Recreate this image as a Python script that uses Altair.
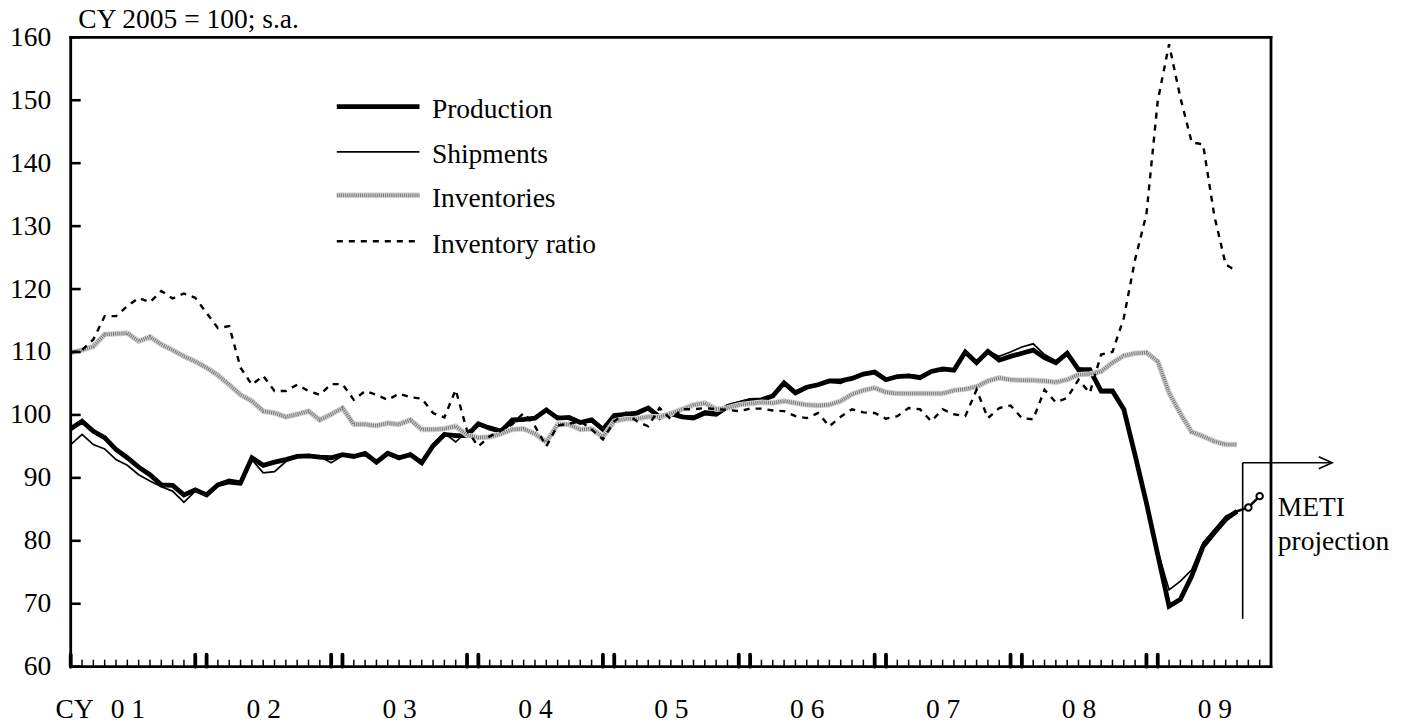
import altair as alt
import pandas as pd

# ---------------- data (monthly, index 0 = Jan 2001) ----------------
production = [97.8, 99.0, 97.4, 96.4, 94.5, 93.2, 91.7, 90.5, 88.9, 88.8, 87.3, 88.1,
              87.3, 88.9, 89.5, 89.2, 93.2, 92.0, 92.5, 92.9, 93.4, 93.5, 93.3, 93.2,
              93.7, 93.4, 93.9, 92.5, 93.9, 93.2, 93.7, 92.4, 95.1, 96.9, 96.7, 96.7,
              98.6, 97.9, 97.4, 99.2, 99.3, 99.5, 100.8, 99.5, 99.6, 98.8, 99.2, 97.7,
              99.9, 100.1, 100.3, 101.1, 99.7, 100.2, 99.7, 99.5, 100.3, 100.1, 101.3, 101.8,
              102.3, 102.4, 103.0, 105.1, 103.5, 104.4, 104.8, 105.4, 105.4, 105.8, 106.5, 106.8,
              105.6, 106.1, 106.2, 105.9, 106.9, 107.3, 107.1, 110.0, 108.3, 110.1, 108.7, 109.3,
              109.8, 110.3, 109.1, 108.3, 109.8, 107.2, 107.2, 103.8, 103.8, 100.9, 93.6, 86.0,
              77.8, 69.6, 70.7, 74.4, 79.1, 81.3, 83.4, 84.7]
shipments = [95.3, 96.9, 95.3, 94.6, 92.9, 92.0, 90.5, 89.5, 88.6, 87.9, 86.1, 87.9,
             87.6, 88.7, 89.1, 88.9, 92.9, 90.8, 91.0, 92.6, 93.4, 93.7, 93.4, 92.4,
             93.5, 93.7, 93.5, 92.5, 93.7, 92.9, 93.9, 92.5, 95.3, 97.1, 95.7, 97.4,
             98.2, 98.2, 97.6, 98.9, 99.1, 99.6, 100.5, 99.8, 99.3, 99.0, 98.9, 98.0,
             99.6, 100.4, 100.2, 101.0, 99.3, 100.5, 99.9, 99.8, 100.6, 100.5, 101.6, 102.1,
             102.5, 102.2, 103.2, 104.8, 103.8, 104.6, 104.9, 105.2, 105.0, 105.9, 106.3, 106.9,
             105.8, 106.0, 106.4, 106.2, 107.1, 107.0, 107.3, 110.1, 108.5, 110.2, 109.3, 110.0,
             110.8, 111.3, 109.6, 108.6, 109.5, 107.5, 107.0, 103.6, 103.6, 100.5, 93.2, 85.5,
             78.4, 72.2, 73.6, 75.4, 79.7, 81.8, 83.9, 84.8]
inventories = [109.9, 110.3, 110.9, 112.8, 112.9, 113.0, 111.7, 112.4, 111.2, 110.3, 109.3, 108.5,
               107.5, 106.3, 104.8, 103.2, 102.2, 100.6, 100.3, 99.7, 100.1, 100.6, 99.2, 100.1,
               101.1, 98.5, 98.5, 98.3, 98.7, 98.5, 99.2, 97.7, 97.7, 97.8, 98.2, 96.8,
               96.4, 96.5, 97.0, 97.7, 97.8, 97.0, 95.7, 98.5, 98.5, 97.7, 97.8, 96.5,
               99.0, 99.4, 99.4, 99.7, 99.7, 100.2, 100.9, 101.6, 101.9, 100.9, 101.1, 101.6,
               101.8, 102.0, 101.9, 102.2, 101.9, 101.6, 101.5, 101.6, 102.2, 103.3, 103.9, 104.3,
               103.6, 103.4, 103.4, 103.4, 103.4, 103.4, 103.9, 104.1, 104.5, 105.4, 105.9, 105.6,
               105.5, 105.5, 105.4, 105.2, 105.6, 106.4, 106.5, 106.9, 108.3, 109.4, 109.8, 109.9,
               108.5, 103.5, 100.2, 97.3, 96.6, 95.8, 95.3, 95.3]
inventory_ratio = [109.9, 110.3, 112.0, 115.7, 115.7, 117.3, 118.6, 117.9, 119.7, 118.5, 119.3, 118.6,
                   116.2, 113.8, 114.1, 107.5, 104.8, 106.2, 103.8, 103.8, 104.8, 103.8, 103.2, 104.9,
                   104.9, 102.4, 103.8, 103.2, 102.4, 103.4, 102.8, 102.6, 100.3, 99.6, 104.0, 97.5,
                   95.0, 96.6, 97.5, 98.5, 100.3, 98.2, 95.0, 98.3, 98.6, 99.0, 97.7, 96.1,
                   99.0, 100.3, 99.0, 98.2, 101.1, 99.3, 100.9, 100.9, 101.1, 100.9, 100.8, 100.6,
                   101.0, 101.0, 100.7, 100.6, 99.8, 99.5, 100.3, 98.2, 99.7, 100.9, 100.4, 100.3,
                   99.4, 99.8, 101.1, 100.9, 99.0, 100.9, 100.1, 99.8, 104.0, 99.5, 101.1, 101.5,
                   99.5, 99.3, 104.0, 102.0, 102.7, 105.6, 103.5, 109.6, 110.0, 115.4, 124.7, 131.9,
                   149.9, 158.9, 150.4, 143.3, 143.0, 131.6, 123.9, 122.8]

proj_months = [103, 104, 105]          # Aug 2009 (actual) -> Sep, Oct 2009 (METI projection)
proj_values = [84.7, 85.3, 87.1]
proj_marker_months = [104, 105]
proj_marker_values = [85.3, 87.1]

year_labels = ["0 1", "0 2", "0 3", "0 4", "0 5", "0 6", "0 7", "0 8", "0 9"]
label_months = [5 + 12 * k for k in range(len(year_labels))]
all_months = list(range(0, 107))
bold_tick_months = [0] + [m for k in range(1, 9) for m in (12 * k - 1, 12 * k)]
y_ticks = list(range(60, 161, 10))

legend_names = ["Production", "Shipments", "Inventories", "Inventory ratio"]
legend_styles = ["prod", "ship", "inv", "ratio"]
legend_y = [148.97, 141.8, 134.9, 127.6]
legend_x = [23.5, 30.8]
legend_text_x = 31.9

bracket_vertical_m = [103.5, 103.5]
bracket_vertical_v = [67.6, 92.4]
bracket_horizontal_m = [103.5, 111.4]
bracket_horizontal_v = [92.4, 92.4]
arrow_m = [110.22, 111.4, 110.22]
arrow_v = [93.35, 92.4, 91.45]
proj_text = ["METI", "projection"]
proj_text_m = [106.6, 106.6]
proj_text_v = [84.0, 78.6]

unit_label = "CY 2005 = 100; s.a."
cy_label = "CY"

# ---------------- layout ----------------
FONT = "Liberation Serif"
FS = 27.5
W, H = 1200.3, 629.4

X = alt.X("m:Q", scale=alt.Scale(domain=[0, 106], nice=False, zero=False),
          axis=alt.Axis(values=label_months, labelExpr="%s[floor(datum.value/12)]" % str(year_labels),
                        tickSize=0, labelPadding=28.5, domain=False, grid=False, title=None,
                        labelFont=FONT, labelFontSize=FS, labelColor="black", labelAngle=0))
Y = alt.Y("v:Q", scale=alt.Scale(domain=[60, 160], nice=False, zero=False),
          axis=alt.Axis(values=y_ticks, tickSize=0, labelPadding=20, domain=False, grid=False,
                        title=None, labelFont=FONT, labelFontSize=FS, labelColor="black"))

STYLES = {
    "prod": [dict(color="black", strokeWidth=4.8)],
    "ship": [dict(color="black", strokeWidth=1.7)],
    "inv": [dict(color="#d0d0d0", strokeWidth=5.5),
            dict(color="#777777", strokeWidth=3.6, strokeDash=[1, 1.1])],
    "ratio": [dict(color="black", strokeWidth=2.4, strokeDash=[6, 6])],
}


def styled(df, style):
    return [alt.Chart(df).mark_line(clip=False, **s).encode(x=X, y=Y, order="o:Q") for s in STYLES[style]]


def series_df(values):
    return pd.DataFrame({"m": list(range(len(values))), "v": values, "o": list(range(len(values)))})


layers = []

# series
layers += styled(series_df(production), "prod")
layers += styled(series_df(shipments), "ship")
layers += styled(series_df(inventories), "inv")
layers += styled(series_df(inventory_ratio), "ratio")

# projection
layers.append(alt.Chart(pd.DataFrame({"m": proj_months, "v": proj_values, "o": [0, 1, 2]}))
              .mark_line(color="black", strokeWidth=2.5).encode(x=X, y=Y, order="o:Q"))
layers.append(alt.Chart(pd.DataFrame({"m": proj_marker_months, "v": proj_marker_values}))
              .mark_point(shape="circle", size=42, filled=True, fill="white", stroke="black", strokeWidth=2, opacity=1)
              .encode(x=X, y=Y))

# bracket + arrow
for mm, vv in [(bracket_vertical_m, bracket_vertical_v), (bracket_horizontal_m, bracket_horizontal_v), (arrow_m, arrow_v)]:
    layers.append(alt.Chart(pd.DataFrame({"m": mm, "v": vv, "o": list(range(len(mm)))}))
                  .mark_line(color="black", strokeWidth=1.6, clip=False).encode(x=X, y=Y, order="o:Q"))
layers.append(alt.Chart(pd.DataFrame({"m": proj_text_m, "v": proj_text_v, "t": proj_text}))
              .mark_text(align="left", baseline="alphabetic", font=FONT, fontSize=FS, color="black")
              .encode(x=X, y=Y, text="t:N"))

# legend
for name, st, ly in zip(legend_names, legend_styles, legend_y):
    layers += styled(pd.DataFrame({"m": legend_x, "v": [ly, ly], "o": [0, 1]}), st)
layers.append(alt.Chart(pd.DataFrame({"m": [legend_text_x] * 4, "v": legend_y, "t": legend_names}))
              .mark_text(align="left", baseline="alphabetic", dy=11.5, font=FONT, fontSize=FS, color="black")
              .encode(x=X, y=Y, text="t:N"))

# unit label and CY
layers.append(alt.Chart(pd.DataFrame({"t": [unit_label]}))
              .mark_text(align="left", baseline="alphabetic", font=FONT, fontSize=FS, color="black")
              .encode(x=alt.value(7.6), y=alt.value(-9.5), text="t:N"))
layers.append(alt.Chart(pd.DataFrame({"t": [cy_label]}))
              .mark_text(align="center", baseline="alphabetic", font=FONT, fontSize=FS, color="black")
              .encode(x=alt.value(4.0), y=alt.value(681.0), text="t:N"))

# plot frame
frame = [
    dict(x=alt.value(0), x2=alt.value(W), y=alt.value(0)),
    dict(x=alt.value(0), x2=alt.value(W), y=alt.value(H)),
    dict(y=alt.value(0), y2=alt.value(H), x=alt.value(0)),
    dict(y=alt.value(0), y2=alt.value(H), x=alt.value(W)),
]
for f in frame:
    layers.append(alt.Chart(pd.DataFrame({"k": [0]})).mark_rule(color="black", strokeWidth=2.8, strokeCap="square")
                  .encode(**f))

# ticks on x axis (inward)
layers.append(alt.Chart(pd.DataFrame({"m": all_months})).mark_rule(color="black", strokeWidth=1.5)
              .encode(x=X, y=alt.value(H), y2=alt.value(H - 7)))
layers.append(alt.Chart(pd.DataFrame({"m": bold_tick_months})).mark_rule(color="black", strokeWidth=3.8, strokeCap="round")
              .encode(x=X, y=alt.value(H), y2=alt.value(H - 12)))
# ticks on y axis (inward)
layers.append(alt.Chart(pd.DataFrame({"v": y_ticks})).mark_rule(color="black", strokeWidth=2.6)
              .encode(y=Y, x=alt.value(0), x2=alt.value(10)))

chart = (alt.layer(*layers)
         .properties(width=W, height=H, autosize=alt.AutoSizeParams(type="none"),
                     padding={"left": 62.7, "top": 29.3, "right": 126, "bottom": 60})
         .configure_view(strokeWidth=0))

chart.save("out.html", embed_options={"renderer": "svg", "actions": False})
